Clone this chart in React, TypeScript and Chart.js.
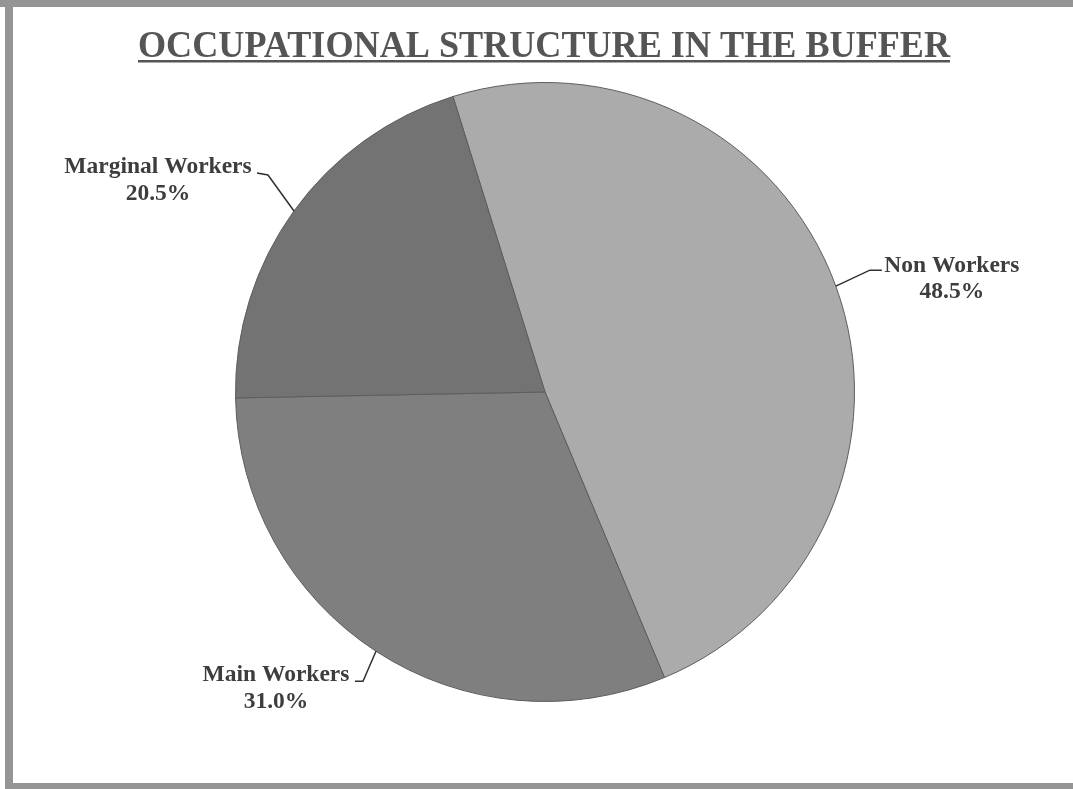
import React, { useEffect, useRef } from "react";
import { Chart, registerables } from "chart.js";

Chart.register(...registerables);

const TITLE = "OCCUPATIONAL STRUCTURE IN THE BUFFER";
const categories = ["Non Workers", "Main Workers", "Marginal Workers"];
const shares = [48.5, 31.0, 20.5];
const sliceColors = ["#ababab", "#7f7f7f", "#737373"];

// leader/label layout offsets relative to each slice's outer mid-point
const labelLayout = [
  { elbow: [34, -16], end: [46, -16], text: [116, -14, 12] },
  { elbow: [-13, 30], end: [-21, 30], text: [-100, 30, 57] },
  { elbow: [-26, -36], end: [-37, -38], text: [-136, -38, -11] },
];

const W = 1073;
const H = 789;

const decorPlugin = {
  id: "decor",
  beforeDraw(chart: any) {
    const ctx = chart.ctx;
    ctx.save();
    ctx.fillStyle = "#ffffff";
    ctx.fillRect(0, 0, W, H);
    ctx.fillStyle = "#959595";
    ctx.fillRect(0, 0, W, 7);
    ctx.fillRect(5, 0, 8, H);
    ctx.fillRect(5, 783, W - 5, 6);
    // title
    ctx.font = "bold 37px 'Liberation Serif', 'Times New Roman', serif";
    ctx.fillStyle = "#555555";
    ctx.textBaseline = "alphabetic";
    const tw = ctx.measureText(TITLE).width;
    const target = 812;
    ctx.save();
    ctx.translate(138, 57);
    ctx.scale(target / tw, 1);
    ctx.fillText(TITLE, 0, 0);
    ctx.restore();
    ctx.fillRect(138, 60, target, 2.5);
    ctx.restore();
  },
  afterDraw(chart: any) {
    const ctx = chart.ctx;
    const meta = chart.getDatasetMeta(0);
    ctx.save();
    meta.data.forEach((arc: any, i: number) => {
      const p = arc.getProps(["x", "y", "startAngle", "endAngle", "outerRadius"], true);
      const mid = (p.startAngle + p.endAngle) / 2;
      const ax = p.x + p.outerRadius * Math.cos(mid);
      const ay = p.y + p.outerRadius * Math.sin(mid);
      const L = labelLayout[i];
      ctx.strokeStyle = "#303030";
      ctx.lineWidth = 1.5;
      ctx.beginPath();
      ctx.moveTo(ax, ay);
      ctx.lineTo(ax + L.elbow[0], ay + L.elbow[1]);
      ctx.lineTo(ax + L.end[0], ay + L.end[1]);
      ctx.stroke();
      ctx.font = "bold 23.5px 'Liberation Serif', 'Times New Roman', serif";
      ctx.fillStyle = "#3d3d3d";
      ctx.textAlign = "center";
      ctx.textBaseline = "alphabetic";
      const cx = ax + L.text[0];
      ctx.fillText(categories[i], cx, ay + L.text[1]);
      ctx.fillText(shares[i].toFixed(1) + "%", cx, ay + L.text[2]);
    });
    ctx.restore();
  },
};

export default function App() {
  const ref = useRef<HTMLCanvasElement | null>(null);
  useEffect(() => {
    if (!ref.current) return;
    const chart = new Chart(ref.current, {
      type: "pie",
      data: {
        labels: categories,
        datasets: [
          {
            data: shares,
            backgroundColor: sliceColors,
            borderColor: "#5e5e5e",
            borderWidth: 1,
          },
        ],
      },
      options: {
        responsive: false,
        animation: false,
        devicePixelRatio: 1,
        rotation: -17.3,
        layout: { padding: { left: 235, top: 82, right: 218, bottom: 87 } },
        plugins: {
          legend: { display: false },
          tooltip: { enabled: false },
          title: { display: false },
        },
      },
      plugins: [decorPlugin],
    });
    return () => chart.destroy();
  }, []);
  return (
    <div style={{ position: "fixed", left: 0, top: 0, width: W, height: H }}>
      <canvas ref={ref} width={W} height={H} style={{ display: "block", width: W, height: H }} />
    </div>
  );
}
